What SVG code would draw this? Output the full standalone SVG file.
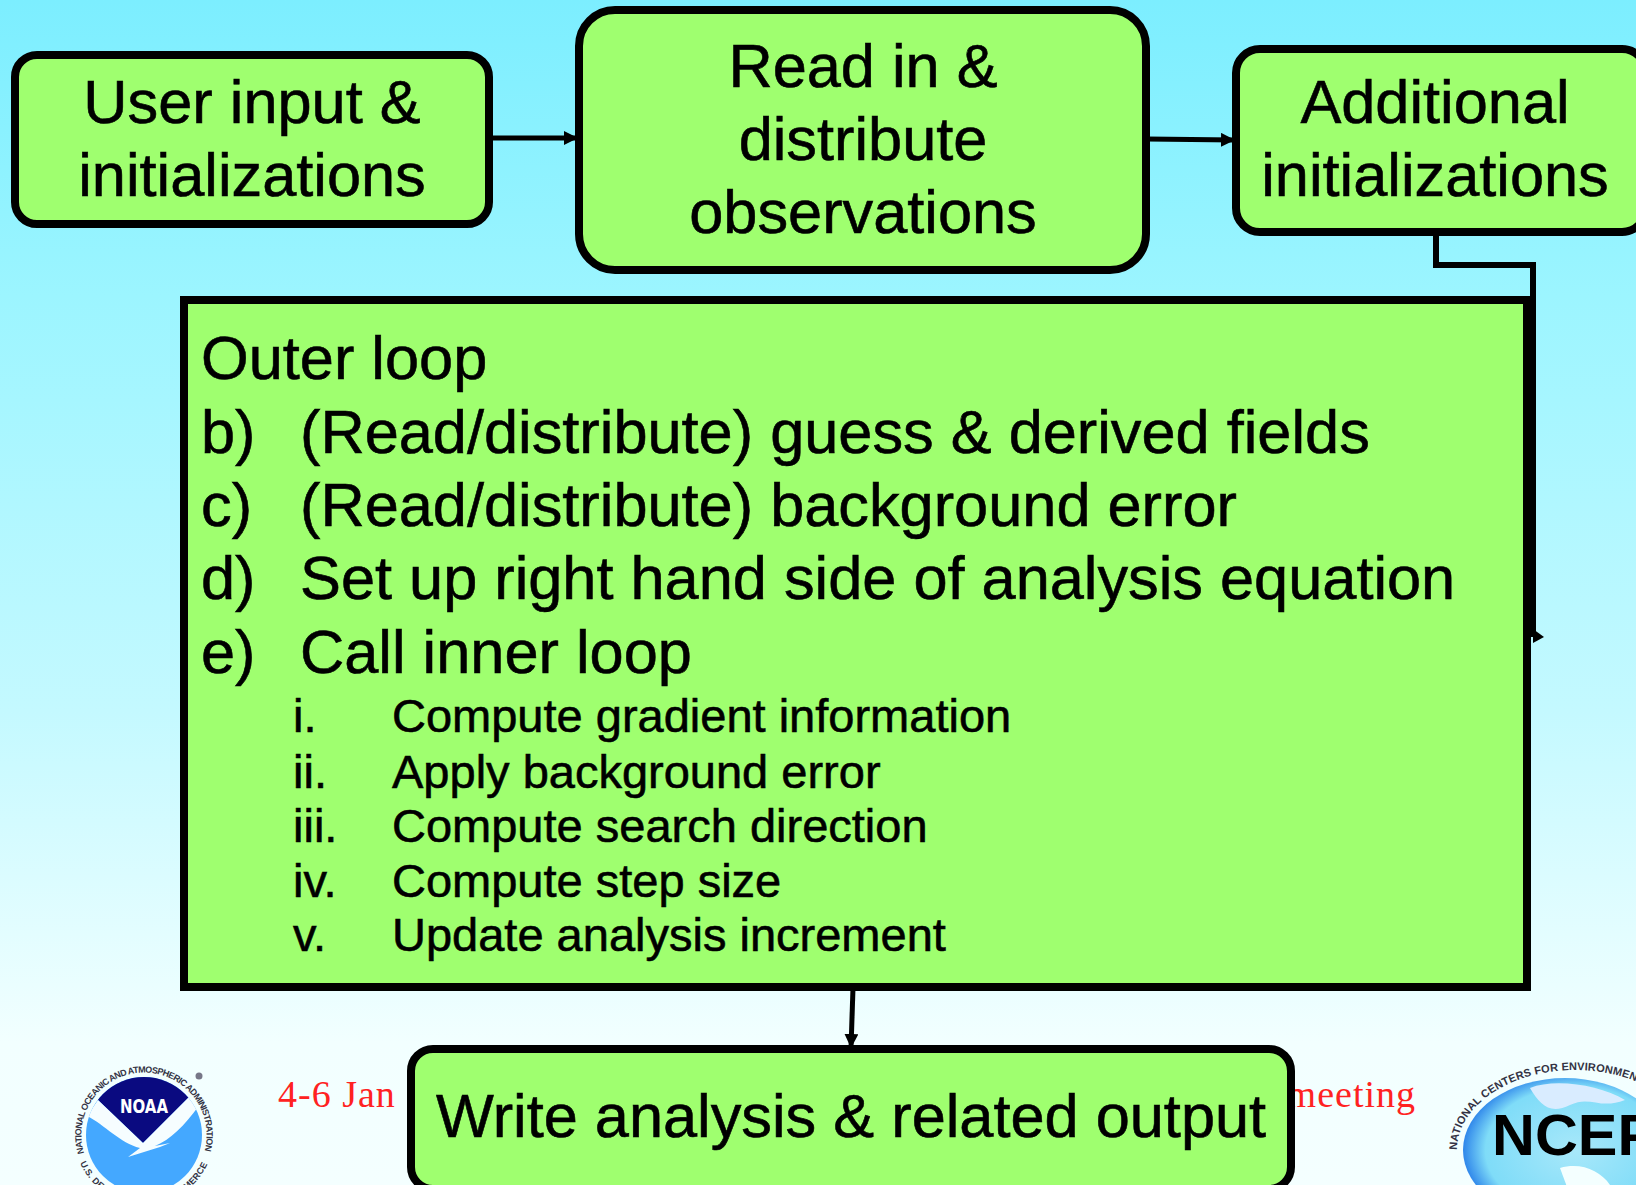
<svg xmlns="http://www.w3.org/2000/svg" width="1636" height="1185" viewBox="0 0 1636 1185">
<defs>
<linearGradient id="bg" x1="0" y1="0" x2="0" y2="1"><stop offset="0" stop-color="#7ceeff"/><stop offset="0.25" stop-color="#9cf5ff"/><stop offset="0.6" stop-color="#c4f9ff"/><stop offset="0.88" stop-color="#f2ffff"/><stop offset="1" stop-color="#f4ffff"/></linearGradient>
<radialGradient id="globe" cx="0.55" cy="0.5" r="0.55"><stop offset="0" stop-color="#a8e8fa"/><stop offset="0.8" stop-color="#7fdcf8"/><stop offset="1" stop-color="#2f86ea"/></radialGradient>
<marker id="arrow" markerUnits="userSpaceOnUse" markerWidth="16" markerHeight="16" refX="14" refY="7" orient="auto"><path d="M0 0L14 7L0 14Z" fill="#000"/></marker>
<clipPath id="noaaClip"><circle cx="144" cy="1135" r="58"/></clipPath>
<clipPath id="ncepClip"><ellipse cx="1565" cy="1150" rx="102" ry="72"/></clipPath>
<path id="noaaArc" d="M84 1153A62.6 62.6 0 1 1 204 1153"/>
<path id="noaaArc2" d="M80 1163A70 70 0 0 0 208 1163"/>
<path id="ncepArc" d="M1457 1150A118 80 0 0 1 1693 1150"/>
</defs>
<style>
text{font-family:"Liberation Sans",Arial,sans-serif;fill:#000}
.box{fill:#9fff6f;stroke:#000;stroke-width:8}
.lg{font-size:61.3px;stroke:#000;stroke-width:.6}
.md{font-size:47px;stroke:#000;stroke-width:.6}
.c{text-anchor:middle}
.red{font-family:"Liberation Serif","Times New Roman",serif;font-size:38px;letter-spacing:1px;fill:#f22}
.conn{fill:none;stroke:#000;stroke-width:5}
.tiny{font-size:9px;font-weight:bold;fill:#334}
</style>
<rect width="1636" height="1185" fill="url(#bg)"/>
<g id="footer">
<text class="red" x="278" y="1107">4-6 Jan 2</text>
<text class="red" x="1416" y="1107" text-anchor="end">meeting</text>
</g>
<g id="noaa-logo">
<circle cx="144" cy="1135" r="58" fill="#44a8ff"/>
<g clip-path="url(#noaaClip)">
<path d="M80 1070H210L190 1096L143 1143L98 1100Z" fill="#0a0a80"/>
<path d="M98 1100L143 1143L190 1096L198 1107C185 1125 170 1140 155 1146L170 1143L160 1147L128 1157L140 1148C120 1143 105 1125 87 1116Z" fill="#f6fdff"/>
</g>
<text x="144" y="1113" text-anchor="middle" style="font-size:20px;font-weight:bold;fill:#fff;font-family:'DejaVu Sans',sans-serif" textLength="48" lengthAdjust="spacingAndGlyphs">NOAA</text>
<text class="tiny"><textPath href="#noaaArc" textLength="230">NATIONAL OCEANIC AND ATMOSPHERIC ADMINISTRATION</textPath></text>
<text class="tiny"><textPath href="#noaaArc2" textLength="160">U.S. DEPARTMENT OF COMMERCE</textPath></text>
<circle cx="199" cy="1076" r="3.5" fill="#778"/>
</g>
<g id="ncep-logo">
<ellipse cx="1565" cy="1150" rx="102" ry="72" fill="url(#globe)"/>
<g clip-path="url(#ncepClip)">
<path d="M1530 1088C1555 1078 1600 1085 1625 1100C1600 1110 1590 1095 1570 1105C1550 1115 1540 1105 1530 1088Z" fill="#d9ecff"/>
<path d="M1560 1168C1580 1162 1600 1170 1610 1185L1570 1195Z" fill="#f4ffff"/>
</g>
<text x="1492" y="1155" style="font-size:58px;font-weight:bold" textLength="165" lengthAdjust="spacingAndGlyphs">NCEP</text>
<text class="tiny" style="font-size:11px"><textPath href="#ncepArc" textLength="240">NATIONAL CENTERS FOR ENVIRONMENTAL</textPath></text>
</g>
<g id="connectors">
<path class="conn" d="M490 138H578" marker-end="url(#arrow)"/>
<path class="conn" d="M1147 139L1235 140" marker-end="url(#arrow)"/>
<path class="conn" style="stroke-width:6" d="M1436 233V265H1533V637"/>
<path d="M1533 629L1544 637L1533 643Z" fill="#000"/>
<path class="conn" d="M853 988L851 1048" marker-end="url(#arrow)"/>
</g>
<g id="user-input">
<rect class="box" x="15" y="55" width="474" height="169" rx="22"/>
<text class="lg c" x="252" y="123">User input &amp;</text>
<text class="lg c" x="252" y="196">initializations</text>
</g>
<g id="read-observations">
<rect class="box" x="579" y="10" width="567" height="260" rx="36"/>
<text class="lg c" x="863" y="87">Read in &amp;</text>
<text class="lg c" x="863" y="160">distribute</text>
<text class="lg c" x="863" y="233">observations</text>
</g>
<g id="additional-init">
<rect class="box" x="1236" y="49" width="410" height="183" rx="24"/>
<text class="lg c" x="1435" y="123">Additional</text>
<text class="lg c" x="1435" y="196">initializations</text>
</g>
<g id="outer-loop">
<rect class="box" x="184" y="300" width="1343" height="687"/>
<text class="lg" x="201" y="379">Outer loop</text>
<text class="lg" x="201" y="453">b)</text><text class="lg" x="300" y="453">(Read/distribute) guess &amp; derived fields</text>
<text class="lg" x="201" y="526">c)</text><text class="lg" x="300" y="526">(Read/distribute) background error</text>
<text class="lg" x="201" y="599">d)</text><text class="lg" x="300" y="599">Set up right hand side of analysis equation</text>
<text class="lg" x="201" y="673">e)</text><text class="lg" x="300" y="673">Call inner loop</text>
<text class="md" x="293" y="732">i.</text><text class="md" x="392" y="732">Compute gradient information</text>
<text class="md" x="293" y="788">ii.</text><text class="md" x="392" y="788">Apply background error</text>
<text class="md" x="293" y="842">iii.</text><text class="md" x="392" y="842">Compute search direction</text>
<text class="md" x="293" y="897">iv.</text><text class="md" x="392" y="897">Compute step size</text>
<text class="md" x="293" y="951">v.</text><text class="md" x="392" y="951">Update analysis increment</text>
</g>
<g id="write-output">
<rect class="box" x="411" y="1049" width="880" height="140" rx="22"/>
<text class="lg c" x="851" y="1137">Write analysis &amp; related output</text>
</g>
</svg>
